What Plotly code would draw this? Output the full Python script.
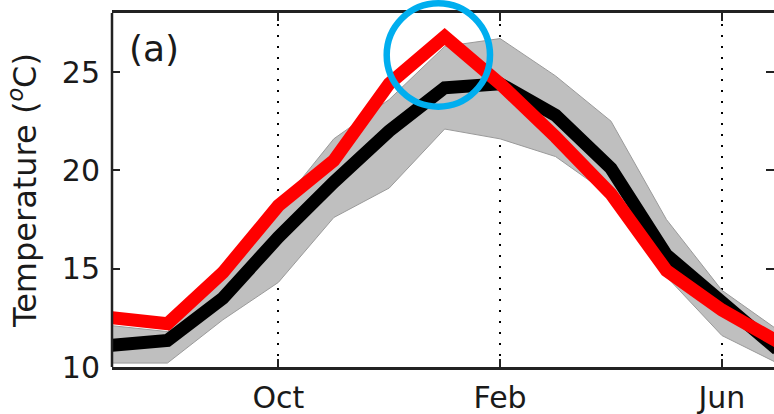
import plotly.graph_objects as go

# Monthly climatology, July to July
months = ["Jul", "Aug", "Sep", "Oct", "Nov", "Dec", "Jan", "Feb", "Mar", "Apr", "May", "Jun", "Jul"]
model_red = [12.5, 12.2, 14.8, 18.2, 20.5, 24.4, 26.8, 24.4, 21.7, 18.8, 14.9, 12.9, 11.3]
ens_mean = [11.1, 11.35, 13.5, 16.6, 19.4, 22.0, 24.2, 24.4, 22.8, 20.1, 15.7, 13.2, 10.9]
ens_max = [12.1, 11.8, 14.5, 18.1, 21.6, 23.6, 26.3, 26.7, 24.8, 22.5, 17.5, 13.9, 11.9]
ens_min = [10.2, 10.2, 12.4, 14.3, 17.6, 19.1, 22.1, 21.6, 20.7, 18.7, 14.6, 11.6, 10.2]

tick_months = ["Oct", "Feb", "Jun"]
y_ticks = [10, 15, 20, 25]

x = list(range(len(months)))
tick_pos = [months.index(m) for m in tick_months]

fig = go.Figure()
fig.add_trace(go.Scatter(x=x, y=ens_max, mode="lines",
                         line=dict(color="#9a9a9a", width=1), showlegend=False))
fig.add_trace(go.Scatter(x=x, y=ens_min, mode="lines", fill="tonexty",
                         fillcolor="#bfbfbf",
                         line=dict(color="#9a9a9a", width=1), showlegend=False))
fig.add_trace(go.Scatter(x=x, y=ens_mean, mode="lines",
                         line=dict(color="black", width=13), showlegend=False))
fig.add_trace(go.Scatter(x=x, y=model_red, mode="lines",
                         line=dict(color="#ff0000", width=13), showlegend=False))

font = dict(family="DejaVu Sans", size=30, color="#1a1a1a")
title_font = dict(family="DejaVu Sans", size=32, color="#1a1a1a")

fig.update_layout(
    width=774, height=414,
    margin=dict(l=112, r=0, t=13, b=47),
    paper_bgcolor="white", plot_bgcolor="white",
    font=font,
    xaxis=dict(range=[0, 11.94], tickvals=tick_pos, ticktext=tick_months,
               ticks="inside", ticklen=8, tickwidth=1.5, tickcolor="#222",
               showline=True, linewidth=2.5, linecolor="#222", mirror="ticks",
               showgrid=True, gridcolor="black", gridwidth=2, griddash="2px,9px",
               zeroline=False, ticklabelstandoff=2, tickfont=font),
    yaxis=dict(range=[10, 28], tickvals=y_ticks,
               ticks="inside", ticklen=8, tickwidth=1.5, tickcolor="#222",
               showline=False, mirror="ticks",
               showgrid=False, zeroline=False, ticklabelstandoff=11, tickfont=font,
               title=dict(text="Temperature (<sup><i>o</i></sup>C)", font=title_font)),
    shapes=[
        dict(type="line", xref="paper", yref="paper", x0=0, x1=0, y0=0, y1=1,
             line=dict(color="#222", width=2.5)),
        dict(type="circle", xref="paper", yref="paper",
             x0=(386.7 - 112) / 662, x1=(490 - 112) / 662,
             y0=(367 - 106.7) / 354, y1=(367 - 3.3) / 354,
             line=dict(color="#00aeef", width=6.5)),
    ],
    annotations=[
        dict(text="(a)", xref="paper", yref="paper", x=(127 - 112) / 662, y=(367 - 48) / 354,
             xanchor="left", yanchor="middle", showarrow=False,
             font=dict(family="DejaVu Sans", size=36, color="#1a1a1a")),
    ],
)

fig.write_html("out.html")
